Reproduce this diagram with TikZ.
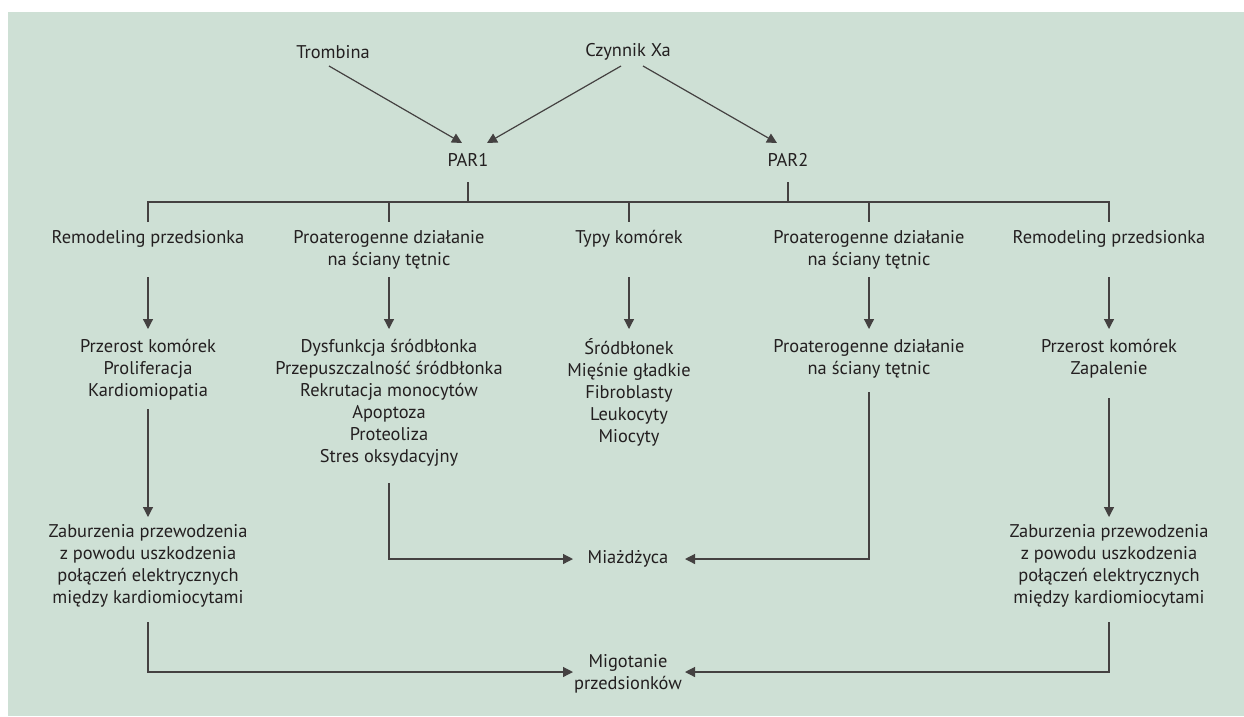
\documentclass[tikz,border=0pt]{standalone}
\usepackage{fontspec}
\setmainfont{PT Sans}
\usepackage{tikz}
\usetikzlibrary{arrows.meta,positioning}
\definecolor{panel}{RGB}{206,224,213}
\definecolor{ink}{RGB}{35,31,32}
\tikzset{
  txt/.style={inner sep=0pt, align=center, text=ink, font=\fontsize{18.4}{22}\selectfont},
  link/.style={draw=ink!85, line width=1.2pt},
  arrow/.style={link, -{Triangle[length=10pt,width=10pt]}}
}

\begin{document}
\begin{tikzpicture}[x=1pt,y=-1pt]
  \useasboundingbox (0,0) rectangle (1244,716);
  \fill[panel] (8,12) rectangle (1244,716);

  \node[txt] (trombina) at (333,52) {Trombina};
  \node[txt] (xa) at (628,52) {Czynnik Xa};
  \node[txt] (par1) at (468,160) {PAR1};
  \node[txt] (par2) at (788,160) {PAR2};
  \draw[arrow] ([xshift=-4pt,yshift=-14pt]trombina.center) -- ([xshift=-6pt,yshift=17pt]par1.center);
  \draw[arrow] ([xshift=-7pt,yshift=-14pt]xa.center) -- ([xshift=19pt,yshift=17pt]par1.center);
  \draw[arrow] ([xshift=15pt,yshift=-14pt]xa.center) -- ([xshift=-11pt,yshift=17pt]par2.center);

  \coordinate (bar) at (629,202);
  \node[txt] (h1) at (148,239) {Remodeling przedsionka};
  \node[txt] (h2) at (389,250) {Proaterogenne działanie\\na ściany tętnic};
  \node[txt] (h3) at (629,239) {Typy komórek};
  \node[txt] (h4) at (869,250) {Proaterogenne działanie\\na ściany tętnic};
  \node[txt] (h5) at (1109,239) {Remodeling przedsionka};
  \draw[link] ([yshift=-22pt]par1.center) -- (par1 |- bar);
  \draw[link] ([yshift=-22pt]par2.center) -- (par2 |- bar);
  \draw[link] ([yshift=17pt]h1.center) -- (h1 |- bar) -- (h5 |- bar) -- ([yshift=17pt]h5.center);
  \draw[link] (h2 |- bar) -- ([yshift=28pt]h2.center);
  \draw[link] (h3 |- bar) -- ([yshift=17pt]h3.center);
  \draw[link] (h4 |- bar) -- ([yshift=28pt]h4.center);

  \node[txt] (l1) at (148,370) {Przerost komórek\\Proliferacja\\Kardiomiopatia};
  \node[txt] (l2) at (389,403) {Dysfunkcja śródbłonka\\Przepuszczalność śródbłonka\\Rekrutacja monocytów\\Apoptoza\\Proteoliza\\Stres oksydacyjny};
  \node[txt] (l3) at (629,392) {Śródbłonek\\Mięśnie gładkie\\Fibroblasty\\Leukocyty\\Miocyty};
  \node[txt] (l4) at (869,359) {Proaterogenne działanie\\na ściany tętnic};
  \node[txt] (l5) at (1109,359) {Przerost komórek\\Zapalenie};
  \draw[arrow] ([yshift=-38pt]h1.center) -- ([yshift=41pt]l1.center);
  \draw[arrow] ([yshift=-27pt]h2.center) -- ([yshift=74pt]l2.center);
  \draw[arrow] ([yshift=-38pt]h3.center) -- ([yshift=63pt]l3.center);
  \draw[arrow] ([yshift=-27pt]h4.center) -- ([yshift=30pt]l4.center);
  \draw[arrow] ([yshift=-38pt]h5.center) -- ([yshift=30pt]l5.center);

  \node[txt] (zab1) at (148,566) {Zaburzenia przewodzenia\\z powodu uszkodzenia\\połączeń elektrycznych\\między kardiomiocytami};
  \node[txt] (zab5) at (1109,566) {Zaburzenia przewodzenia\\z powodu uszkodzenia\\połączeń elektrycznych\\między kardiomiocytami};
  \node[txt] (miaz) at (628,559) {Miażdżyca};
  \node[txt] (mig) at (628,674) {Migotanie\\przedsionków};
  \draw[arrow] ([yshift=-39pt]l1.center) -- ([yshift=49pt]zab1.center);
  \draw[arrow] ([yshift=-39pt]l5.center) -- ([yshift=49pt]zab5.center);
  \draw[arrow] ([yshift=-80pt]l2.center) |- ([xshift=-55pt]miaz.center);
  \draw[arrow] ([yshift=-33pt]l4.center) |- ([xshift=57pt]miaz.center);
  \draw[arrow] ([yshift=-56pt]zab1.center) |- ([xshift=-55pt,yshift=2pt]mig.center);
  \draw[arrow] ([yshift=-56pt]zab5.center) |- ([xshift=57pt,yshift=2pt]mig.center);
\end{tikzpicture}
\end{document}
